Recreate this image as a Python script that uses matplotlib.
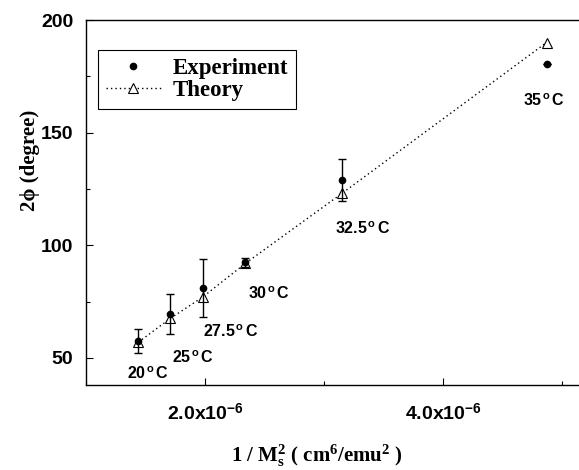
import matplotlib
matplotlib.use("Agg")
import matplotlib.pyplot as plt
from matplotlib.lines import Line2D
from matplotlib.ticker import MultipleLocator, FuncFormatter

plt.rcParams['mathtext.fontset'] = 'custom'
plt.rcParams['mathtext.rm'] = 'Liberation Serif:bold'
plt.rcParams['mathtext.it'] = 'Liberation Serif:bold'
plt.rcParams['mathtext.bf'] = 'Liberation Serif:bold'
plt.rcParams['mathtext.sf'] = 'Liberation Sans:bold'

# data
temps = ["20", "25", "27.5", "30", "32.5", "35"]
inv_ms2 = [1.44e-6, 1.71e-6, 1.98e-6, 2.34e-6, 3.15e-6, 4.87e-6]
exp_phi = [57.5, 69.5, 81.0, 92.5, 129.0, 180.5]
exp_err = [5.3, 8.7, 13.0, 2.0, 9.5, 0.0]
theory_phi = [57.0, 67.6, 77.0, 92.0, 123.0, 190.0]

# label offsets (data units) for temperature annotations
lab_dx = [-0.095e-6, 0.013e-6, 0.003e-6, 0.021e-6, -0.058e-6, -0.198e-6]
lab_dy = [-14.2, -19.1, -19.1, -13.8, -21.1, -15.9]

fig = plt.figure(figsize=(5.79, 4.70), dpi=100)
ax = fig.add_axes([86/579, 85/470, 493/579, 365/470])

ax.plot(inv_ms2, theory_phi, linestyle=(0, (1, 2.2)), color='black', lw=1.0,
        marker='^', markersize=7, markerfacecolor='white', markeredgecolor='black',
        markeredgewidth=0.8, zorder=2)
ax.errorbar(inv_ms2, exp_phi, yerr=exp_err, fmt='o', color='black', markersize=4.5,
            ecolor='black', elinewidth=1.0, capsize=3, capthick=1.0, zorder=3)

for t, x, y, dx, dy in zip(temps, inv_ms2, exp_phi, lab_dx, lab_dy):
    ax.text(x + dx, y + dy, t + r"$^{\,\mathsf{o}}\,$C", fontsize=11.5,
            family='Liberation Sans', fontweight='bold', ha='left', va='center')

ax.set_xlim(1.0e-6, 5.143e-6)
ax.set_ylim(38, 200)
ax.xaxis.set_major_locator(MultipleLocator(2e-6))
ax.xaxis.set_minor_locator(MultipleLocator(1e-6))
ax.yaxis.set_major_locator(MultipleLocator(50))
ax.yaxis.set_minor_locator(MultipleLocator(25))


def xfmt(v, pos):
    m = v / 1e-6
    return "%.1fx10$^{\\mathsf{-6}}$" % m


ax.xaxis.set_major_formatter(FuncFormatter(xfmt))
ax.tick_params(which='both', direction='in', top=False, right=False)
ax.tick_params(which='major', length=5, width=0.8)
ax.tick_params(axis='x', which='major', pad=13)
ax.tick_params(axis='y', which='major', pad=9)
ax.tick_params(which='minor', length=3, width=0.8)
for lab in ax.get_xticklabels() + ax.get_yticklabels():
    lab.set_family('Liberation Sans')
    lab.set_fontsize(14)
    lab.set_fontweight('bold')

ax.spines['right'].set_visible(False)
for s in ['left', 'bottom', 'top']:
    ax.spines[s].set_linewidth(1.0)

ax.set_ylabel("2\u03d5 (degree)", family=['Liberation Serif', 'DejaVu Serif'],
              fontweight='bold', fontsize=15, va='center')
ax.yaxis.set_label_coords(-0.114, 0.616)
ax.set_xlabel(r"1 / M$_{\mathrm{s}}^{\mathrm{2}}$ ( cm$^{\mathrm{6}}$/emu$^{\mathrm{2}}$ )",
              family='Liberation Serif', fontweight='bold', fontsize=15, va='center')
ax.xaxis.set_label_coords(0.469, -0.195)

h_exp = Line2D([], [], linestyle='none', marker='o', color='black', markersize=4.5)
h_th = Line2D([], [], linestyle=(0, (1, 2.2)), color='black', lw=1.0, marker='^',
              markersize=7, markerfacecolor='white', markeredgecolor='black',
              markeredgewidth=0.8)
leg = ax.legend([h_exp, h_th], ['Experiment', 'Theory'], loc='upper left',
                bbox_to_anchor=(0.024, 0.918), fancybox=False, edgecolor='black',
                framealpha=1, borderaxespad=0, handlelength=2.4, handletextpad=0.5,
                prop={'family': 'Liberation Serif', 'weight': 'bold', 'size': 16.5},
                labelspacing=0.05, borderpad=0.35)
leg.get_frame().set_linewidth(0.8)

fig.savefig("out.png", dpi=100)
